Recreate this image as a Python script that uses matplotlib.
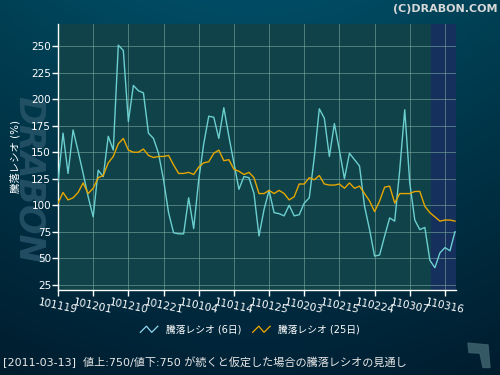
import numpy as np
import matplotlib
matplotlib.use("Agg")
import matplotlib.pyplot as plt
from matplotlib.lines import Line2D
from matplotlib.legend_handler import HandlerBase
from matplotlib.patches import Polygon

plt.rcParams['font.family'] = ['DejaVu Sans', 'Noto Sans CJK JP']

# tick labels every 7 trading days
tick_labels = ["101119", "101201", "101210", "101221", "110104", "110114",
               "110125", "110203", "110215", "110224", "110307", "110316"]
tick_pos = [0, 7, 14, 21, 28, 35, 42, 49, 56, 63, 70, 77]

ratio6 = [122, 168, 130, 171, 151, 130, 108, 89, 133, 127,
          165, 152, 251, 246, 179, 213, 208, 206, 168, 163,
          149, 124, 93, 74, 73, 73, 107, 78, 124, 158,
          184, 183, 163, 192, 165, 140, 115, 127, 126, 111,
          71, 96, 114, 93, 92, 90, 100, 90, 91, 102,
          107, 145, 191, 182, 146, 177, 152, 125, 149, 143,
          137, 99, 77, 52, 53, 71, 88, 85, 133, 190,
          121, 86, 77, 79, 48, 41, 55, 60, 57, 75]
ratio25 = [102, 112, 105, 107, 112, 121, 111, 116, 126, 128,
           140, 146, 158, 163, 152, 150, 150, 153, 147, 145,
           146, 146, 147, 138, 130, 130, 131, 129, 136, 140,
           141, 149, 152, 142, 143, 134, 132, 129, 131, 126,
           111, 111, 114, 111, 114, 111, 105, 108, 120, 120,
           126, 124, 128, 120, 119, 119, 120, 116, 121, 116,
           118, 111, 104, 94, 104, 117, 118, 102, 111, 111,
           111, 113, 113, 99, 93, 89, 85, 86, 86, 85]
forecast_start = 74.2

x = np.arange(len(ratio6))

fig = plt.figure(figsize=(5, 3.75), dpi=100)

# background gradient
bg = fig.add_axes([0, 0, 1, 1], zorder=-5)
grad = np.linspace(0, 1, 200)[:, None] * np.ones((1, 300))
horiz = np.linspace(0, 1, 300)[None, :]
top = np.array([0x00, 0x4c, 0x64]) / 255
bot = np.array([0x00, 0x22, 0x36]) / 255
img = top[None, None, :] * (1 - grad[:, :, None]) + bot[None, None, :] * grad[:, :, None]
img = img * (0.85 + 0.15 * np.sin(np.pi * horiz)[:, :, None])
bg.imshow(img, aspect='auto', extent=[0, 1, 0, 1])
bg.set_xlim(0, 1)
bg.set_ylim(0, 1)
bg.axis('off')

# watermark
fig.text(0.057, 0.52, "DRABON", rotation=-90, fontsize=25, fontweight='heavy',
         style='italic', color='#2a566b', alpha=0.8, ha='center', va='center', zorder=-4)

ax = fig.add_axes([0.116, 0.2267, 0.796, 0.7093])
ax.set_facecolor('#0f4349')
ax.axvspan(forecast_start, 79.2, color='#15305c', zorder=0, lw=0)

ax.plot(x, ratio6, color='#6ccfcf', lw=1.0, zorder=3)
ax.plot(x, ratio25, color='#e6a600', lw=1.0, zorder=3)

ax.set_xlim(0, 79.2)
ax.set_ylim(20, 271)
ax.set_yticks(range(25, 251, 25))
ax.set_xticks(tick_pos)
ax.set_xticklabels(tick_labels, rotation=-12, ha='center')
ax.grid(True, color='#7aa8a0', lw=0.7, alpha=0.6, zorder=1)
ax.set_axisbelow(True)
for s in ['top', 'right']:
    ax.spines[s].set_visible(False)
for s in ['left', 'bottom']:
    ax.spines[s].set_color('white')
    ax.spines[s].set_linewidth(1)
ax.tick_params(colors='white', labelsize=7.5, length=4, width=1, pad=1)
ax.set_ylabel("騰落レシオ (%)", color='white', fontsize=7.5, labelpad=8)

fig.text(0.994, 0.975, "(C)DRABON.COM", ha='right', va='center', color='#d8d8d8',
         fontsize=8, fontweight='bold')


class ZigZag(HandlerBase):
    def create_artists(self, legend, orig_handle, xdescent, ydescent,
                       width, height, fontsize, trans):
        xs = np.array([0, 0.35, 0.65, 1.0]) * width - xdescent
        ys = np.array([0.1, 1.0, 0.1, 1.0]) * height - ydescent
        ln = Line2D(xs, ys, color=orig_handle.get_color(), lw=0.9)
        ln.set_transform(trans)
        return [ln]


h1 = Line2D([], [], color='#8fd8ee')
h2 = Line2D([], [], color='#f0a800')
leg = fig.legend([h1, h2], ["騰落レシオ (6日)", "騰落レシオ (25日)"],
                 loc='center', bbox_to_anchor=(0.5, 1 - 330 / 375), ncol=2,
                 frameon=False, fontsize=7, handlelength=1.8, columnspacing=1.2,
                 handler_map={Line2D: ZigZag()})
for t in leg.get_texts():
    t.set_color('white')

fig.text(0.006, 1 - 362 / 375,
         "[2011-03-13]  値上:750/値下:750 が続くと仮定した場合の騰落レシオの見通し",
         color='#e8e8e8', fontsize=8, va='center', ha='left')

# small logo mark at bottom right
fig.patches.append(Polygon([[0.936, 0.085], [0.976, 0.08], [0.98, 0.02],
                            [0.966, 0.02], [0.96, 0.058], [0.938, 0.06]],
                           closed=True, transform=fig.transFigure,
                           color='#3a5f6a', alpha=0.9))

fig.savefig("out.png", dpi=100)
